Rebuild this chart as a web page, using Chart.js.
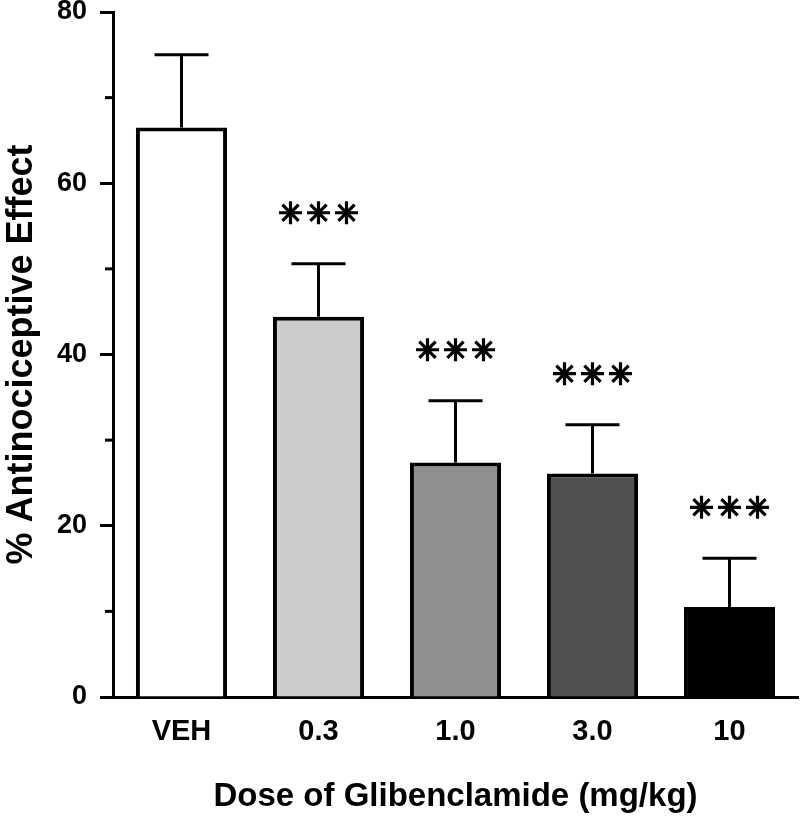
<!DOCTYPE html>
<html>
<head>
<meta charset="utf-8">
<script src="https://cdn.jsdelivr.net/npm/chart.js@4.4.1/dist/chart.umd.min.js"></script>
<style>
  html, body { margin: 0; background: #fff; }
  #wrap { width: 800px; height: 817px; }
</style>
</head>
<body>
<div id="wrap"><canvas id="chart"></canvas></div>
<script>
const doses = ['VEH', '0.3', '1.0', '3.0', '10']
const meanEffect = [66.5, 44.4, 27.4, 26.1, 10.5]
const semEffect = [8.5, 6.2, 7.2, 5.7, 5.7]
const significance = ['', '***', '***', '***', '***']
const barColors = ['#ffffff', '#cccccc', '#8f8f8f', '#505050', '#000000']
const minorTicks = [10, 30, 50, 70]

const FONT = '"Liberation Sans", Arial, sans-serif'

// asterisk drawn as 4 crossing strokes (8 spokes), like the original
const drawStar = (ctx, cx, cy, r) => {
  ctx.beginPath()
  for (let a = 0; a < 4; a++) {
    const t = a * Math.PI / 4
    ctx.moveTo(cx - r * Math.cos(t), cy - r * Math.sin(t))
    ctx.lineTo(cx + r * Math.cos(t), cy + r * Math.sin(t))
  }
  ctx.stroke()
}

// error bars, minor y ticks and the *** marks
const extrasPlugin = {
  id: 'extras',
  afterDatasetsDraw(chart) {
    const { ctx, scales: { x, y } } = chart
    const left = chart.chartArea.left
    ctx.save()
    ctx.strokeStyle = '#000'
    ctx.lineWidth = 3

    minorTicks.forEach(v => {
      const py = y.getPixelForValue(v)
      ctx.beginPath()
      ctx.moveTo(left - 8, py)
      ctx.lineTo(left, py)
      ctx.stroke()
    })

    meanEffect.forEach((m, i) => {
      const px = x.getPixelForValue(i)
      const top = y.getPixelForValue(m + semEffect[i])
      const base = y.getPixelForValue(m)
      ctx.lineWidth = 3
      ctx.beginPath()
      ctx.moveTo(px, base)
      ctx.lineTo(px, top)
      ctx.moveTo(px - 27, top)
      ctx.lineTo(px + 27, top)
      ctx.stroke()

      const n = significance[i].length
      ctx.lineWidth = 3.2
      for (let k = 0; k < n; k++) {
        drawStar(ctx, px + (k - (n - 1) / 2) * 28, top - 51, 11.5)
      }
    })
    ctx.restore()
  }
}

new Chart(document.getElementById('chart'), {
  type: 'bar',
  data: {
    labels: doses,
    datasets: [{
      data: meanEffect,
      backgroundColor: barColors,
      borderColor: '#000',
      borderWidth: 4,
      categoryPercentage: 1,
      barPercentage: 0.665,
    }]
  },
  options: {
    responsive: true,
    maintainAspectRatio: false,
    animation: false,
    layout: { padding: { top: 12, right: 2, left: 0, bottom: 0 } },
    plugins: {
      legend: { display: false },
      tooltip: { enabled: false },
    },
    scales: {
      x: {
        grid: { display: false, drawTicks: false },
        border: { display: true, color: '#000', width: 3 },
        ticks: { color: '#000', padding: 18, font: { family: FONT, size: 29, weight: 'bold' } },
        title: {
          display: true,
          text: 'Dose of Glibenclamide (mg/kg)',
          color: '#000',
          font: { family: FONT, size: 33, weight: 'bold' },
          padding: { top: 0, bottom: 0 },
        },
        afterFit(scale) {
          scale.height = 120
          scale.paddingLeft = 0
          scale.paddingRight = 0
        },
      },
      y: {
        min: 0,
        max: 80,
        grid: { drawOnChartArea: false, drawTicks: true, tickLength: 13, tickWidth: 3, tickColor: '#000' },
        border: { display: true, color: '#000', width: 3 },
        ticks: { stepSize: 20, color: '#000', padding: 13, font: { family: FONT, size: 27, weight: 'bold' } },
        title: {
          display: true,
          text: '% Antinociceptive Effect',
          color: '#000',
          font: { family: FONT, size: 36, weight: 'bold' },
          padding: 0,
        },
        afterFit(scale) {
          scale.width = 113
          scale.paddingTop = 0
          scale.paddingBottom = 0
        },
      }
    }
  },
  plugins: [extrasPlugin]
})
</script>
</body>
</html>
